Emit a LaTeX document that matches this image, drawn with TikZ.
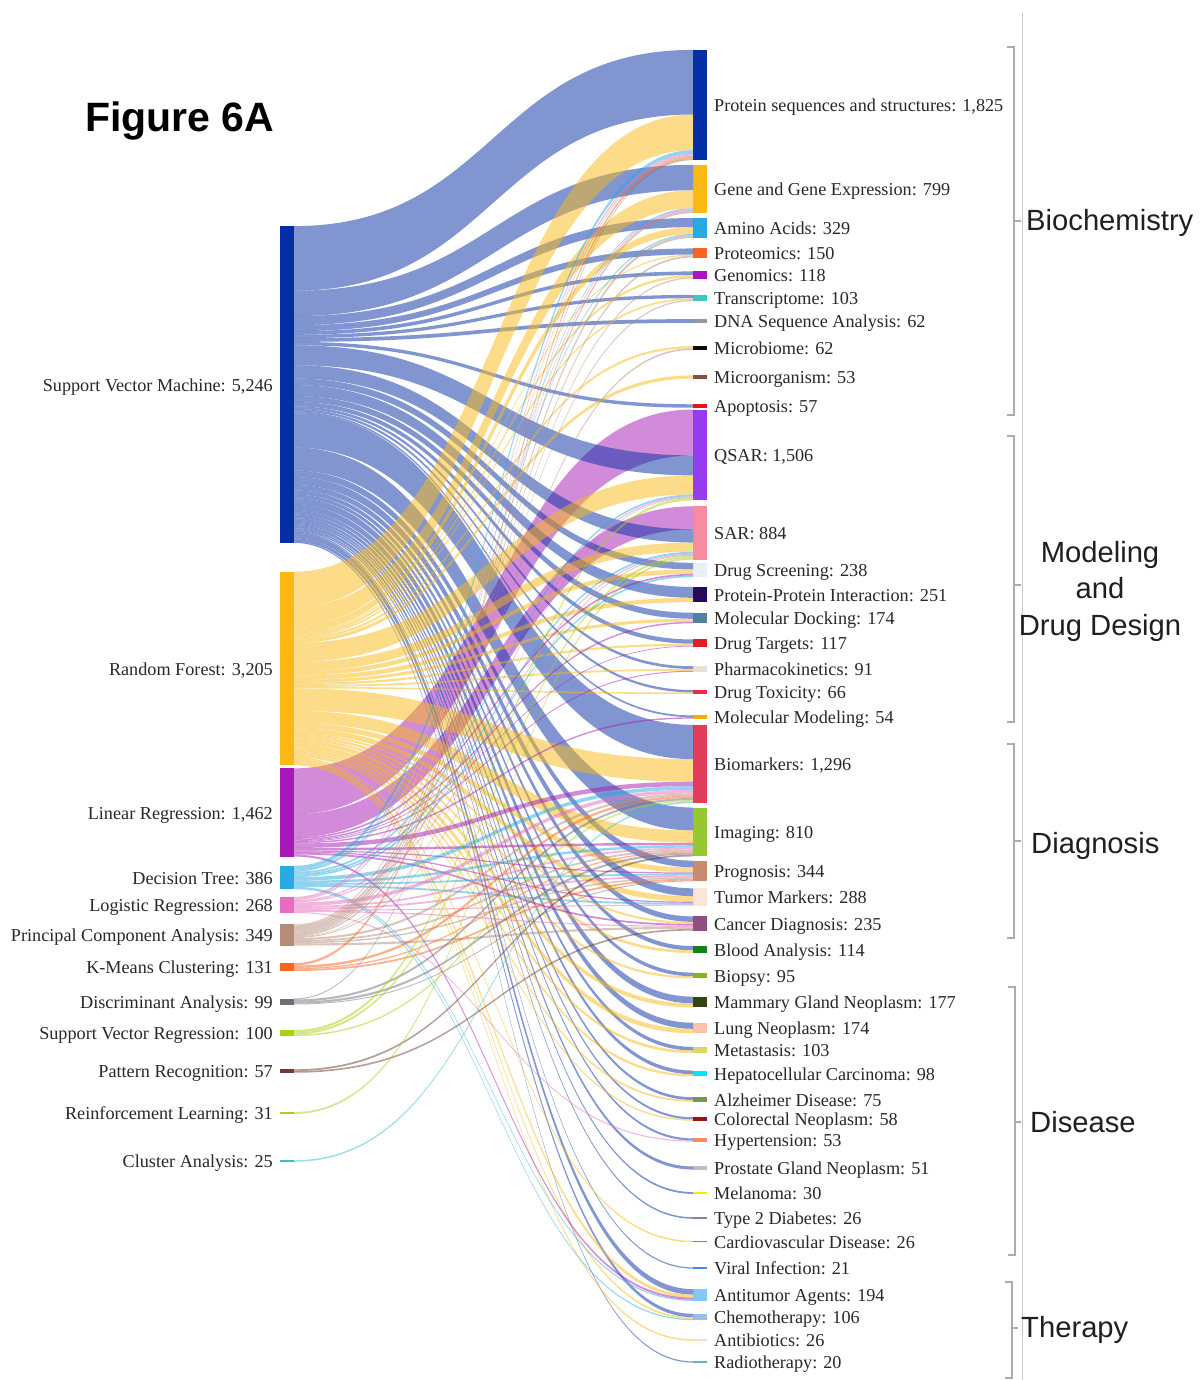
\documentclass[tikz,border=0pt]{standalone}
\usepackage{fontspec}
\setmainfont{Liberation Serif}
\newfontfamily\catfont{Liberation Sans}
\definecolor{labc}{RGB}{40,40,40}
\definecolor{brkc}{RGB}{172,172,172}
\definecolor{vlinec}{RGB}{200,200,200}
% source colours
\definecolor{cs1}{RGB}{5,45,165}
\definecolor{cs2}{RGB}{250,185,20}
\definecolor{cs3}{RGB}{165,25,180}
\definecolor{cs4}{RGB}{40,170,225}
\definecolor{cs5}{RGB}{230,110,190}
\definecolor{cs6}{RGB}{180,140,120}
\definecolor{cs7}{RGB}{250,100,30}
\definecolor{cs8}{RGB}{110,110,120}
\definecolor{cs9}{RGB}{170,210,20}
\definecolor{cs10}{RGB}{110,60,50}
\definecolor{cs11}{RGB}{180,200,40}
\definecolor{cs12}{RGB}{60,190,200}
% target colours
\definecolor{ct1}{RGB}{5,45,165}
\definecolor{ct2}{RGB}{250,185,20}
\definecolor{ct3}{RGB}{40,170,225}
\definecolor{ct4}{RGB}{250,100,30}
\definecolor{ct5}{RGB}{170,20,190}
\definecolor{ct6}{RGB}{60,200,190}
\definecolor{ct7}{RGB}{150,150,160}
\definecolor{ct8}{RGB}{10,10,10}
\definecolor{ct9}{RGB}{130,80,60}
\definecolor{ct10}{RGB}{230,20,30}
\definecolor{ct11}{RGB}{150,60,240}
\definecolor{ct12}{RGB}{245,140,160}
\definecolor{ct13}{RGB}{232,240,250}
\definecolor{ct14}{RGB}{40,10,90}
\definecolor{ct15}{RGB}{80,130,160}
\definecolor{ct16}{RGB}{225,30,40}
\definecolor{ct17}{RGB}{235,225,210}
\definecolor{ct18}{RGB}{235,40,70}
\definecolor{ct19}{RGB}{250,170,0}
\definecolor{ct20}{RGB}{225,60,90}
\definecolor{ct21}{RGB}{150,200,50}
\definecolor{ct22}{RGB}{200,140,110}
\definecolor{ct23}{RGB}{250,230,215}
\definecolor{ct24}{RGB}{140,80,130}
\definecolor{ct25}{RGB}{20,130,20}
\definecolor{ct26}{RGB}{140,180,20}
\definecolor{ct27}{RGB}{50,70,20}
\definecolor{ct28}{RGB}{250,195,170}
\definecolor{ct29}{RGB}{220,215,100}
\definecolor{ct30}{RGB}{0,230,250}
\definecolor{ct31}{RGB}{120,150,80}
\definecolor{ct32}{RGB}{150,20,20}
\definecolor{ct33}{RGB}{250,140,90}
\definecolor{ct34}{RGB}{190,190,190}
\definecolor{ct35}{RGB}{240,240,0}
\definecolor{ct36}{RGB}{140,130,150}
\definecolor{ct37}{RGB}{240,80,110}
\definecolor{ct38}{RGB}{60,140,240}
\definecolor{ct39}{RGB}{130,200,240}
\definecolor{ct40}{RGB}{150,190,230}
\definecolor{ct41}{RGB}{250,220,200}
\definecolor{ct42}{RGB}{100,180,200}

\def\kk{0.0604}
\tikzset{
  bar/.style={draw=none, inner sep=0pt, outer sep=0pt, minimum width=14pt},
  lab/.style={font=\fontsize{18.2}{20}\selectfont, text=labc, inner sep=0pt},
  link/.style={fill opacity=0.5},
  cat/.style={font=\catfont\fontsize{29.2}{36.5}\selectfont, text=black!88, inner sep=0pt},
  title/.style={font=\catfont\bfseries\fontsize{41}{45}\selectfont, text=black, inner sep=0pt},
  brk/.style={draw=brkc, line width=2.5pt},
}
\newcommand{\srcnode}[4]{%
  \pgfmathsetmacro{\lkH}{#2*\kk}%
  \node[bar, fill=c#1, minimum height=\lkH pt, anchor=east] (#1) at (294,#3) {};%
  \node[lab, anchor=base east] (#1l) at (273,#3+6.5) {#4};%
  \expandafter\xdef\csname off#1\endcsname{0}%
}
\newcommand{\tgtnode}[4]{%
  \pgfmathsetmacro{\lkH}{#2*\kk}%
  \node[bar, fill=c#1, minimum height=\lkH pt, anchor=west] (#1) at (693,#3) {};%
  \node[lab, anchor=base west] (#1l) at (714,#3+6.5) {#4};%
  \expandafter\xdef\csname off#1\endcsname{0}%
}
\newcommand{\flow}[3]{%
  \pgfmathsetmacro{\lkW}{#3*\kk}%
  \pgfmathsetmacro{\lkA}{\csname off#1\endcsname}%
  \pgfmathsetmacro{\lkB}{\csname off#2\endcsname}%
  \pgfmathsetmacro{\lkC}{\lkA+\lkW}%
  \pgfmathsetmacro{\lkD}{\lkB+\lkW}%
  \fill[link, fill=c#1] ([yshift=-\lkA pt]#1.north east) .. controls +(199.5pt,0pt) and +(-199.5pt,0pt) .. ([yshift=-\lkB pt]#2.north west) -- ([yshift=-\lkD pt]#2.north west) .. controls +(-199.5pt,0pt) and +(199.5pt,0pt) .. ([yshift=-\lkC pt]#1.north east) -- cycle;%
  \expandafter\xdef\csname off#1\endcsname{\lkC}%
  \expandafter\xdef\csname off#2\endcsname{\lkD}%
}

\begin{document}
\begin{tikzpicture}[x=1pt,y=-1pt]
\useasboundingbox (0,0) rectangle (1202,1380);
\fill[white] (0,0) rectangle (1202,1380);

% title
\node[title, anchor=base west] (ttl) at (85,132) {Figure 6A};

% source nodes
\srcnode{s1}{5246}{384.5}{Support Vector Machine: 5,246}
\srcnode{s2}{3205}{668.5}{Random Forest: 3,205}
\srcnode{s3}{1462}{812.5}{Linear Regression: 1,462}
\srcnode{s4}{386}{877.5}{Decision Tree: 386}
\srcnode{s5}{268}{905}{Logistic Regression: 268}
\srcnode{s6}{349}{935}{Principal Component Analysis: 349}
\srcnode{s7}{131}{967}{K-Means Clustering: 131}
\srcnode{s8}{99}{1001.5}{Discriminant Analysis: 99}
\srcnode{s9}{100}{1033}{Support Vector Regression: 100}
\srcnode{s10}{57}{1071}{Pattern Recognition: 57}
\srcnode{s11}{31}{1113}{Reinforcement Learning: 31}
\srcnode{s12}{25}{1161}{Cluster Analysis: 25}

% target nodes
\tgtnode{t1}{1825}{105}{Protein sequences and structures: 1,825}
\tgtnode{t2}{799}{189}{Gene and Gene Expression: 799}
\tgtnode{t3}{329}{228}{Amino Acids: 329}
\tgtnode{t4}{150}{253}{Proteomics: 150}
\tgtnode{t5}{118}{275}{Genomics: 118}
\tgtnode{t6}{103}{298}{Transcriptome: 103}
\tgtnode{t7}{62}{321}{DNA Sequence Analysis: 62}
\tgtnode{t8}{62}{348}{Microbiome: 62}
\tgtnode{t9}{53}{377}{Microorganism: 53}
\tgtnode{t10}{57}{406}{Apoptosis: 57}
\tgtnode{t11}{1506}{455}{QSAR: 1,506}
\tgtnode{t12}{884}{533}{SAR: 884}
\tgtnode{t13}{238}{570}{Drug Screening: 238}
\tgtnode{t14}{251}{594.5}{Protein-Protein Interaction: 251}
\tgtnode{t15}{174}{618}{Molecular Docking: 174}
\tgtnode{t16}{117}{643}{Drug Targets: 117}
\tgtnode{t17}{91}{669}{Pharmacokinetics: 91}
\tgtnode{t18}{66}{692}{Drug Toxicity: 66}
\tgtnode{t19}{54}{717}{Molecular Modeling: 54}
\tgtnode{t20}{1296}{764}{Biomarkers: 1,296}
\tgtnode{t21}{810}{832}{Imaging: 810}
\tgtnode{t22}{344}{871}{Prognosis: 344}
\tgtnode{t23}{288}{897}{Tumor Markers: 288}
\tgtnode{t24}{235}{923.5}{Cancer Diagnosis: 235}
\tgtnode{t25}{114}{949.5}{Blood Analysis: 114}
\tgtnode{t26}{95}{975.5}{Biopsy: 95}
\tgtnode{t27}{177}{1002}{Mammary Gland Neoplasm: 177}
\tgtnode{t28}{174}{1028}{Lung Neoplasm: 174}
\tgtnode{t29}{103}{1050}{Metastasis: 103}
\tgtnode{t30}{98}{1073.5}{Hepatocellular Carcinoma: 98}
\tgtnode{t31}{75}{1099.5}{Alzheimer Disease: 75}
\tgtnode{t32}{58}{1119}{Colorectal Neoplasm: 58}
\tgtnode{t33}{53}{1140}{Hypertension: 53}
\tgtnode{t34}{51}{1168}{Prostate Gland Neoplasm: 51}
\tgtnode{t35}{30}{1193}{Melanoma: 30}
\tgtnode{t36}{26}{1218}{Type 2 Diabetes: 26}
\tgtnode{t37}{26}{1241.5}{Cardiovascular Disease: 26}
\tgtnode{t38}{21}{1268}{Viral Infection: 21}
\tgtnode{t39}{194}{1295}{Antitumor Agents: 194}
\tgtnode{t40}{106}{1317}{Chemotherapy: 106}
\tgtnode{t41}{26}{1340}{Antibiotics: 26}
\tgtnode{t42}{20}{1362}{Radiotherapy: 20}

% flows: Linear Regression first into QSAR and SAR
\flow{s3}{t11}{760}
\flow{s3}{t12}{380}
% Support Vector Machine
\flow{s1}{t1}{1070}\flow{s1}{t2}{420}\flow{s1}{t3}{150}\flow{s1}{t4}{100}
\flow{s1}{t5}{60}\flow{s1}{t6}{55}\flow{s1}{t7}{62}\flow{s1}{t10}{57}
\flow{s1}{t11}{330}\flow{s1}{t12}{220}\flow{s1}{t13}{110}\flow{s1}{t14}{180}
\flow{s1}{t15}{100}\flow{s1}{t16}{70}\flow{s1}{t17}{45}\flow{s1}{t18}{40}
\flow{s1}{t19}{30}\flow{s1}{t20}{568}\flow{s1}{t21}{380}\flow{s1}{t22}{110}
\flow{s1}{t23}{130}\flow{s1}{t24}{90}\flow{s1}{t25}{70}\flow{s1}{t26}{60}
\flow{s1}{t27}{110}\flow{s1}{t28}{100}\flow{s1}{t29}{60}\flow{s1}{t30}{60}
\flow{s1}{t31}{45}\flow{s1}{t32}{35}\flow{s1}{t33}{35}\flow{s1}{t34}{51}
\flow{s1}{t35}{30}\flow{s1}{t36}{26}\flow{s1}{t38}{21}\flow{s1}{t39}{90}
\flow{s1}{t40}{56}\flow{s1}{t42}{20}
% Random Forest
\flow{s2}{t1}{590}\flow{s2}{t2}{298}\flow{s2}{t3}{115}\flow{s2}{t4}{20}
\flow{s2}{t5}{38}\flow{s2}{t6}{28}\flow{s2}{t8}{36}\flow{s2}{t9}{53}
\flow{s2}{t11}{316}\flow{s2}{t12}{154}\flow{s2}{t13}{73}\flow{s2}{t14}{71}
\flow{s2}{t15}{50}\flow{s2}{t16}{35}\flow{s2}{t17}{30}\flow{s2}{t18}{26}
\flow{s2}{t20}{373}\flow{s2}{t21}{204}\flow{s2}{t22}{86}\flow{s2}{t23}{90}
\flow{s2}{t24}{33}\flow{s2}{t25}{44}\flow{s2}{t26}{35}\flow{s2}{t27}{67}
\flow{s2}{t28}{74}\flow{s2}{t29}{43}\flow{s2}{t30}{38}\flow{s2}{t31}{30}
\flow{s2}{t32}{23}\flow{s2}{t37}{26}\flow{s2}{t39}{50}\flow{s2}{t40}{30}
\flow{s2}{t41}{26}
% Linear Regression (rest)
\flow{s3}{t13}{28}\flow{s3}{t15}{24}\flow{s3}{t16}{12}\flow{s3}{t17}{16}
\flow{s3}{t19}{24}\flow{s3}{t20}{74}\flow{s3}{t21}{40}\flow{s3}{t22}{20}
\flow{s3}{t23}{20}\flow{s3}{t24}{30}\flow{s3}{t39}{34}
% Decision Tree
\flow{s4}{t1}{60}\flow{s4}{t2}{19}\flow{s4}{t3}{20}\flow{s4}{t11}{30}
\flow{s4}{t12}{30}\flow{s4}{t13}{27}\flow{s4}{t20}{60}\flow{s4}{t21}{40}
\flow{s4}{t22}{30}\flow{s4}{t23}{30}\flow{s4}{t39}{20}\flow{s4}{t40}{20}
% Logistic Regression
\flow{s5}{t1}{30}\flow{s5}{t2}{22}\flow{s5}{t11}{20}\flow{s5}{t12}{20}
\flow{s5}{t20}{60}\flow{s5}{t21}{30}\flow{s5}{t22}{30}\flow{s5}{t23}{18}
\flow{s5}{t24}{20}\flow{s5}{t33}{18}
% Principal Component Analysis
\flow{s6}{t1}{20}\flow{s6}{t2}{40}\flow{s6}{t3}{44}\flow{s6}{t4}{30}
\flow{s6}{t5}{20}\flow{s6}{t6}{20}\flow{s6}{t8}{26}\flow{s6}{t11}{10}
\flow{s6}{t12}{14}\flow{s6}{t20}{36}\flow{s6}{t21}{30}\flow{s6}{t22}{24}
\flow{s6}{t24}{35}
% K-Means
\flow{s7}{t1}{40}\flow{s7}{t20}{40}\flow{s7}{t21}{21}\flow{s7}{t22}{30}
% Discriminant Analysis
\flow{s8}{t1}{15}\flow{s8}{t20}{35}\flow{s8}{t21}{35}\flow{s8}{t22}{14}
% Support Vector Regression
\flow{s9}{t11}{40}\flow{s9}{t12}{35}\flow{s9}{t20}{25}
% Pattern Recognition
\flow{s10}{t21}{30}\flow{s10}{t24}{27}
% Reinforcement Learning
\flow{s11}{t12}{31}
% Cluster Analysis
\flow{s12}{t20}{25}

% divider line
\draw[vlinec, line width=1pt] (1022,13) -- (1022,1380);

% brackets
\draw[brk] (1007,47) -- (1014,47) -- (1014,415) -- (1007,415);
\draw[brk, line width=1.5pt] (1014,221) -- (1021,221);
\draw[brk] (1007,436) -- (1014,436) -- (1014,722) -- (1007,722);
\draw[brk, line width=1.5pt] (1014,585) -- (1021,585);
\draw[brk] (1007,744) -- (1014,744) -- (1014,938) -- (1007,938);
\draw[brk, line width=1.5pt] (1014,841) -- (1021,841);
\draw[brk] (1008,987) -- (1015,987) -- (1015,1255) -- (1008,1255);
\draw[brk, line width=1.5pt] (1015,1122) -- (1021,1122);
\draw[brk] (1005,1282) -- (1012,1282) -- (1012,1378) -- (1005,1378);
\draw[brk, line width=1.5pt] (1012,1328) -- (1018,1328);

% category labels
\node[cat, anchor=base west] (cbio) at (1026,230) {Biochemistry};
\node[cat, align=center] (cmod) at (1100,591) {Modeling\\and\\Drug Design};
\node[cat, anchor=base west] (cdia) at (1031,853) {Diagnosis};
\node[cat, anchor=base west] (cdis) at (1030,1132) {Disease};
\node[cat, anchor=base west] (cthe) at (1021,1337) {Therapy};
\end{tikzpicture}
\end{document}
